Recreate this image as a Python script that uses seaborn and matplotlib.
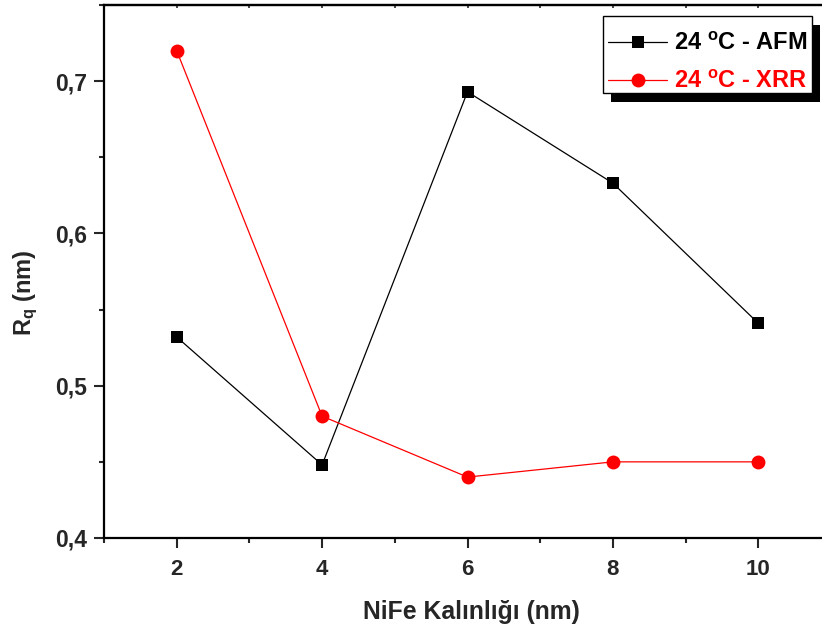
import matplotlib
matplotlib.use("Agg")
import matplotlib.pyplot as plt
import seaborn as sns
import pandas as pd
from matplotlib.patches import Rectangle
from matplotlib.ticker import MultipleLocator, FuncFormatter

thickness = [2, 4, 6, 8, 10]
rq_afm = [0.532, 0.448, 0.693, 0.633, 0.541]
rq_xrr = [0.720, 0.480, 0.440, 0.450, 0.450]
label_afm = r"24 $^{\mathbf{o}}$C - AFM"
label_xrr = r"24 $^{\mathbf{o}}$C - XRR"
x_label = "NiFe Kalınlığı (nm)"
y_label = r"R$_\mathbf{q}$ (nm)"

sns.set_style("ticks")
plt.rcParams['font.family'] = ['Liberation Sans', 'DejaVu Sans']
plt.rcParams['mathtext.fontset'] = 'custom'
plt.rcParams['mathtext.rm'] = 'Liberation Sans'
plt.rcParams['mathtext.bf'] = 'Liberation Sans:bold'
plt.rcParams['mathtext.it'] = 'Liberation Sans:bold'

df_afm = pd.DataFrame({"x": thickness, "y": rq_afm})
df_xrr = pd.DataFrame({"x": thickness, "y": rq_xrr})

W, H = 822, 630
fig = plt.figure(figsize=(W / 100, H / 100), dpi=100)
ax = fig.add_axes([104 / W, 92 / H, 727 / W, 533 / H])

sns.lineplot(data=df_afm, x="x", y="y", ax=ax, color="black", marker="s",
             markersize=8.5, markeredgewidth=0, linewidth=0.9, label=label_afm)
sns.lineplot(data=df_xrr, x="x", y="y", ax=ax, color="red", marker="o",
             markersize=10, markeredgewidth=0, linewidth=0.9, label=label_xrr)

ax.set_xlim(1, 11)
ax.set_ylim(0.4, 0.75)
ax.xaxis.set_major_locator(MultipleLocator(2))
ax.xaxis.set_minor_locator(MultipleLocator(1))
ax.yaxis.set_major_locator(MultipleLocator(0.1))
ax.yaxis.set_minor_locator(MultipleLocator(0.05))
ax.yaxis.set_major_formatter(FuncFormatter(lambda v, p: f"{v:.1f}".replace(".", ",")))

for s in ax.spines.values():
    s.set_linewidth(1.6)
    s.set_color("black")

ax.tick_params(axis="both", which="major", direction="out", length=7, width=1.5, pad=5)
ax.tick_params(axis="both", which="minor", direction="out", length=3.5, width=1.5)
ax.tick_params(axis="y", which="major", labelsize=16.5)
ax.tick_params(axis="x", which="major", labelsize=16, pad=8)
for lab in ax.get_yticklabels() + ax.get_xticklabels():
    lab.set_fontweight("bold")

top = ax.secondary_xaxis('top')
top.xaxis.set_major_locator(MultipleLocator(2))
top.xaxis.set_minor_locator(MultipleLocator(1))
top.tick_params(which="both", direction="in", length=2.5, width=1.2, labeltop=False)
top.spines['top'].set_linewidth(1.6)

ax.set_xlabel(x_label, fontsize=17.8, fontweight="bold")
ax.xaxis.set_label_coords(0.505, -0.116)
ax.set_ylabel(y_label, fontsize=17, fontweight="bold")
ax.yaxis.set_label_coords(-0.107, 0.461)
ax.yaxis.label.set_va("center")

# legend (content only; frame + shadow drawn as patches)
leg = ax.legend(loc="center left", bbox_to_anchor=(608 / W, 1 - 62.5 / H),
                bbox_transform=fig.transFigure, borderaxespad=0, borderpad=0,
                frameon=False, handlelength=2.5,
                prop={"weight": "bold", "size": 17},
                labelspacing=0.62, handletextpad=0.3)
leg.set_zorder(7)
for t, c in zip(leg.get_texts(), ["black", "red"]):
    t.set_color(c)

bx0, by_top, bx1, by_bot = 603, 16, 812, 92.7
frame = Rectangle((bx0, H - by_bot), bx1 - bx0, by_bot - by_top, transform=None,
                  facecolor="white", edgecolor="black", linewidth=1.0, zorder=6)
shadow = Rectangle((bx0 + 8, H - by_bot - 9), bx1 - bx0, by_bot - by_top, transform=None,
                   facecolor="black", edgecolor="none", zorder=5.5)
for p in (shadow, frame):
    p.set_clip_on(False)
    ax.add_artist(p)

fig.savefig("out.png", dpi=100)
